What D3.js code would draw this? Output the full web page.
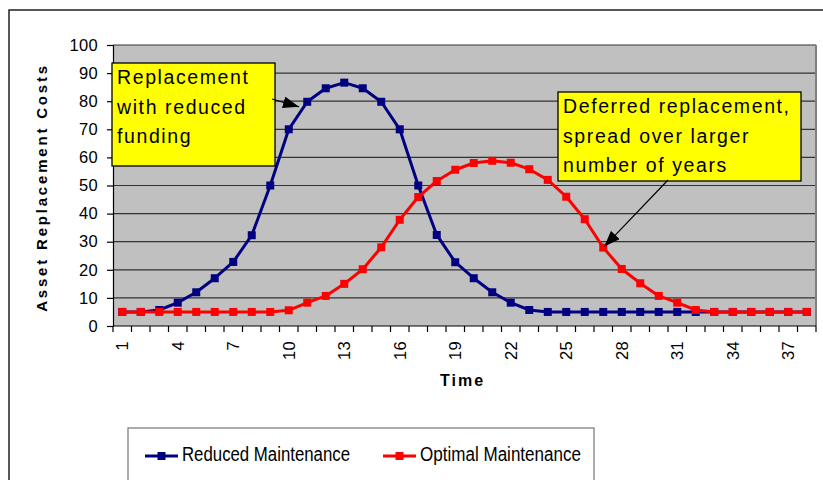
<!DOCTYPE html>
<html>
<head>
<meta charset="utf-8">
<script src="https://cdn.jsdelivr.net/npm/d3@7"></script>
<style>
  body { margin: 0; background: #fff; }
  svg { display: block; font-family: "Liberation Sans", Arial, sans-serif; }
</style>
</head>
<body>
<div id="chart"></div>
<script>
// Time steps on the category axis
var times = [1, 2, 3, 4, 5, 6, 7, 8, 9, 10, 11, 12, 13, 14, 15, 16, 17, 18, 19,
             20, 21, 22, 23, 24, 25, 26, 27, 28, 29, 30, 31, 32, 33, 34, 35, 36, 37, 38];
var timeTicks = [1, 4, 7, 10, 13, 16, 19, 22, 25, 28, 31, 34, 37];

// Asset replacement costs
var reduced = [5, 5, 5.7, 8.3, 12, 17, 22.8, 32.3, 50, 70, 79.8, 84.6, 86.6, 84.6, 79.8, 70, 50, 32.4, 22.7,
               17, 12, 8.3, 5.7, 5, 5, 5, 5, 5, 5, 5, 5, 5, 5, 5, 5, 5, 5, 5];
var optimal = [5, 5, 5, 5, 5, 5, 5, 5, 5, 5.6, 8.3, 10.7, 15, 20.2, 28, 37.8, 45.9, 51.6, 55.6,
               58, 58.8, 58.1, 55.8, 52, 46, 38, 27.9, 20.3, 15.2, 10.7, 8.3, 5.7, 5, 5, 5, 5, 5, 5];
var valueTicks = [0, 10, 20, 30, 40, 50, 60, 70, 80, 90, 100];

var seriesNames = ["Reduced Maintenance", "Optimal Maintenance"];
var noteReduced = ["Replacement", "with reduced", "funding"];
var noteDeferred = ["Deferred replacement,", "spread over larger", "number of years"];

var W = 823, H = 480;
var plot = { left: 113, right: 816, top: 45, bottom: 326 };

var svg = d3.select("#chart").append("svg")
  .attr("width", W)
  .attr("height", H);

// arrow head
svg.append("defs").append("marker")
  .attr("id", "arrow")
  .attr("viewBox", "0 0 16 12")
  .attr("refX", 16).attr("refY", 6)
  .attr("markerWidth", 16).attr("markerHeight", 12)
  .attr("markerUnits", "userSpaceOnUse")
  .attr("orient", "auto")
  .append("path")
  .attr("d", "M0,0 L16,6 L0,12 Z")
  .attr("fill", "#000");

// outer frame
svg.append("rect")
  .attr("x", 9).attr("y", 10)
  .attr("width", 900).attr("height", 600)
  .attr("fill", "none")
  .attr("stroke", "#222")
  .attr("stroke-width", 1.5);

var x = d3.scaleBand()
  .domain(times)
  .range([plot.left, plot.right])
  .padding(0);

var y = d3.scaleLinear()
  .domain([0, 100])
  .range([plot.bottom, plot.top]);

function cx(t) { return x(t) + x.bandwidth() / 2; }
// position between categories (for annotation arrows)
function xAt(v) { return cx(times[0]) + (v - times[0]) * x.bandwidth(); }

// plot background
svg.append("rect")
  .attr("x", plot.left).attr("y", plot.top)
  .attr("width", plot.right - plot.left)
  .attr("height", plot.bottom - plot.top)
  .attr("fill", "#c0c0c0");

// gridlines
svg.append("g")
  .selectAll("line")
  .data(valueTicks.slice(1))
  .join("line")
  .attr("x1", plot.left).attr("x2", plot.right)
  .attr("y1", function(d) { return y(d); })
  .attr("y2", function(d) { return y(d); })
  .attr("stroke", "#333")
  .attr("stroke-width", 1.2);

// right border
svg.append("line")
  .attr("x1", plot.right).attr("x2", plot.right)
  .attr("y1", plot.top).attr("y2", plot.bottom)
  .attr("stroke", "#808080")
  .attr("stroke-width", 2);

// Y axis
var yAxis = svg.append("g")
  .attr("transform", "translate(" + plot.left + ",0)")
  .call(d3.axisLeft(y).tickValues(valueTicks).tickSize(6).tickPadding(9));
yAxis.select(".domain").attr("stroke", "#000").attr("stroke-width", 1.2);
yAxis.selectAll(".tick line").attr("stroke", "#000").attr("stroke-width", 1.2);
yAxis.selectAll("text")
  .attr("font-size", 16.5)
  .attr("letter-spacing", "0.3px")
  .attr("fill", "#000")
  .style("font-family", "'Liberation Sans', Arial, sans-serif");

// X axis line and ticks at category boundaries
svg.append("line")
  .attr("x1", plot.left).attr("x2", plot.right)
  .attr("y1", plot.bottom).attr("y2", plot.bottom)
  .attr("stroke", "#000")
  .attr("stroke-width", 1.2);

svg.append("g")
  .selectAll("line")
  .data(times.concat(["end"]))
  .join("line")
  .attr("x1", function(d) { return d === "end" ? plot.right : x(d); })
  .attr("x2", function(d) { return d === "end" ? plot.right : x(d); })
  .attr("y1", plot.bottom)
  .attr("y2", plot.bottom + 6)
  .attr("stroke", "#000")
  .attr("stroke-width", 1.2);

svg.append("g")
  .selectAll("text")
  .data(timeTicks)
  .join("text")
  .attr("transform", function(d) { return "translate(" + cx(d) + "," + (plot.bottom + 15) + ") rotate(-90)"; })
  .attr("dy", "0.35em")
  .attr("text-anchor", "end")
  .attr("font-size", 16.5)
  .attr("letter-spacing", "0.3px")
  .text(function(d) { return d; });

// axis titles
svg.append("text")
  .attr("transform", "translate(47," + ((plot.top + plot.bottom) / 2 + 2) + ") rotate(-90)")
  .attr("text-anchor", "middle")
  .attr("font-size", 15)
  .attr("font-weight", "bold")
  .attr("letter-spacing", "2.8px")
  .text("Asset Replacement Costs");

svg.append("text")
  .attr("x", (plot.left + plot.right) / 2 - 2)
  .attr("y", 386)
  .attr("text-anchor", "middle")
  .attr("font-size", 16)
  .attr("font-weight", "bold")
  .attr("letter-spacing", "2px")
  .text("Time");

// series
var colors = ["#000080", "#ff0000"];
var line = d3.line()
  .x(function(d, i) { return cx(times[i]); })
  .y(function(d) { return y(d); });

[reduced, optimal].forEach(function(values, k) {
  svg.append("path")
    .datum(values)
    .attr("fill", "none")
    .attr("stroke", colors[k])
    .attr("stroke-width", 3)
    .attr("stroke-linejoin", "round")
    .attr("d", line);

  svg.append("g")
    .selectAll("rect")
    .data(values)
    .join("rect")
    .attr("x", function(d, i) { return cx(times[i]) - 4; })
    .attr("y", function(d) { return y(d) - 4; })
    .attr("width", 8)
    .attr("height", 8)
    .attr("fill", colors[k]);
});

// annotation boxes
function noteBox(lines, bx, by, bw, bh) {
  svg.append("rect")
    .attr("x", bx).attr("y", by)
    .attr("width", bw).attr("height", bh)
    .attr("fill", "#ffff00")
    .attr("stroke", "#000")
    .attr("stroke-width", 1.3);
  svg.append("g")
    .selectAll("text")
    .data(lines)
    .join("text")
    .attr("x", bx + 5)
    .attr("y", function(d, i) { return by + 21 + i * 29.5; })
    .attr("font-size", 19.5)
    .attr("letter-spacing", "1.6px")
    .text(function(d) { return d; });
}

noteBox(noteReduced, 112, 63, 163, 103);
noteBox(noteDeferred, 558, 92, 243, 89);

svg.append("line")
  .attr("x1", 272).attr("y1", 99)
  .attr("x2", xAt(10.55)).attr("y2", y(78))
  .attr("stroke", "#000")
  .attr("stroke-width", 1.2)
  .attr("marker-end", "url(#arrow)");

svg.append("line")
  .attr("x1", 668).attr("y1", 180)
  .attr("x2", cx(27) + 1).attr("y2", y(optimal[26]) - 1)
  .attr("stroke", "#000")
  .attr("stroke-width", 1.2)
  .attr("marker-end", "url(#arrow)");

// legend
svg.append("rect")
  .attr("x", 128).attr("y", 428)
  .attr("width", 466).attr("height", 80)
  .attr("fill", "#fff")
  .attr("stroke", "#808080")
  .attr("stroke-width", 1.3);

var legendX = [145, 383];
var legendTextWidth = [168, 161];
seriesNames.forEach(function(name, k) {
  var g = svg.append("g").attr("transform", "translate(" + legendX[k] + ",456)");
  g.append("line")
    .attr("x1", 0).attr("x2", 33)
    .attr("stroke", colors[k])
    .attr("stroke-width", 3);
  g.append("rect")
    .attr("x", 12.5).attr("y", -4)
    .attr("width", 8).attr("height", 8)
    .attr("fill", colors[k]);
  g.append("text")
    .attr("x", 37)
    .attr("y", 3)
    .attr("dy", "0.1em")
    .attr("font-size", 19.5)
    .attr("textLength", legendTextWidth[k])
    .attr("lengthAdjust", "spacingAndGlyphs")
    .text(name);
});
</script>
</body>
</html>
